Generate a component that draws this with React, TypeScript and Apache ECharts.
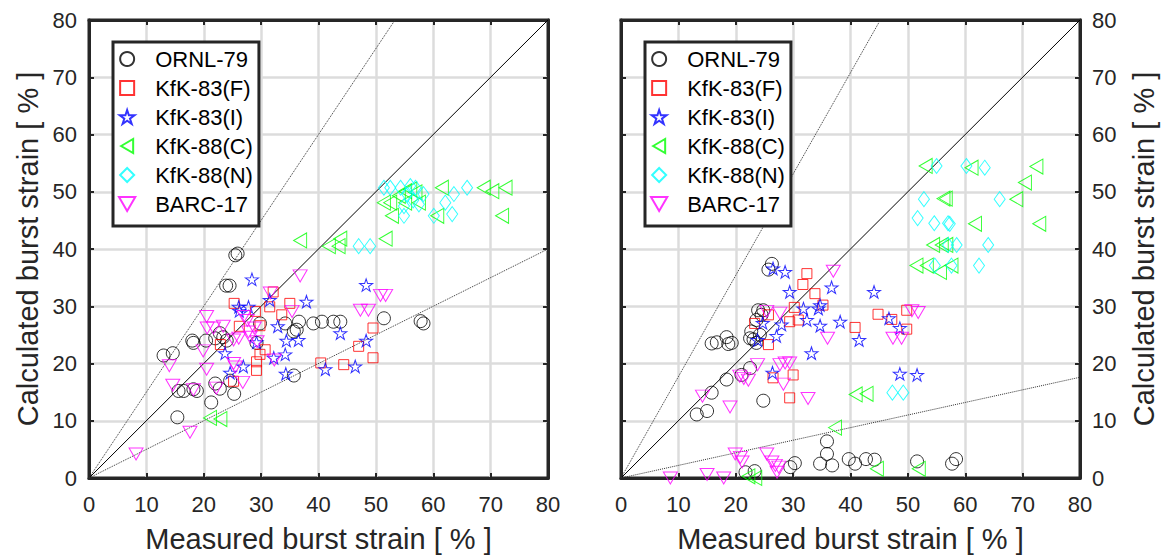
import React, { useEffect, useRef } from "react";
import * as echarts from "echarts";

const FONT = "'Liberation Sans', Arial, Helvetica, sans-serif";
const AXIS_COLOR = "#262626";

const seriesNames = ["ORNL-79", "KfK-83(F)", "KfK-83(I)", "KfK-88(C)", "KfK-88(N)", "BARC-17"];
const seriesColors = ["#000000", "#ff0000", "#0000ff", "#00ff00", "#00ffff", "#ff00ff"];
const tickValues = [0, 10, 20, 30, 40, 50, 60, 70, 80];
const xTitle = "Measured burst strain [ % ]";
const yTitle = "Calculated burst strain [ % ]";

// reference lines: y = slope * x (first solid 1:1, then dotted bands)
const leftLineSlopes = [1, 1.5, 0.5];
const rightLineSlopes = [1, 1.77, 0.22];

// ---------- left panel ----------
const leftORNL79 = [
  [13.0, 21.4], [14.6, 21.8], [15.4, 10.6], [15.6, 15.2], [16.5, 15.2], [18.2, 15.5], [18.8, 15.2],
  [18.2, 23.6], [18.0, 24.0], [20.4, 24.0], [22.0, 24.4], [22.8, 25.3], [23.4, 24.6], [24.0, 24.0],
  [22.0, 16.5], [22.8, 15.6], [24.6, 17.0], [25.3, 14.7], [21.3, 13.2], [23.9, 33.6], [24.5, 33.6],
  [25.5, 38.9], [25.9, 39.2], [29.2, 23.6], [29.8, 27.0], [34.2, 27.0], [35.7, 25.6], [36.2, 25.9],
  [36.6, 27.3], [35.7, 17.9], [39.1, 27.0], [40.6, 27.3], [42.6, 27.3], [43.8, 27.3], [51.4, 27.9],
  [57.8, 27.4], [58.3, 27.0],
];
const leftKfK83F = [
  [25.3, 30.5], [32.1, 32.5], [31.5, 29.9], [35.0, 30.5], [33.6, 28.5], [29.0, 29.1], [26.2, 26.5],
  [29.8, 26.6], [22.9, 23.3], [30.7, 22.4], [29.8, 21.6], [29.2, 20.3], [29.2, 18.8], [25.2, 16.9],
  [40.4, 20.1], [44.4, 19.8], [47.0, 23.0], [49.5, 26.2], [49.5, 21.0],
];
const leftKfK83I = [
  [28.4, 34.7], [26.1, 29.9], [27.8, 29.9], [26.2, 29.2], [31.5, 31.1], [37.9, 30.8], [32.9, 26.5],
  [29.2, 23.7], [34.4, 24.0], [36.5, 24.1], [23.7, 21.8], [34.2, 21.6], [32.2, 21.0], [24.6, 18.4],
  [26.9, 19.5], [34.3, 18.2], [41.2, 19.0], [48.3, 33.7], [43.8, 25.3], [48.3, 24.0], [46.4, 19.5],
];
const leftKfK88C = [
  [21.1, 10.5], [22.9, 10.3], [36.8, 41.5], [41.8, 40.5], [43.5, 40.5], [43.8, 41.8], [51.7, 41.8],
  [51.4, 48.1], [52.5, 48.1], [52.8, 45.8], [54.0, 49.3], [55.1, 50.1], [56.0, 50.4], [56.9, 49.9],
  [57.5, 48.1], [55.1, 48.1], [60.7, 45.8], [61.5, 50.7], [68.8, 50.7], [70.3, 50.1], [72.6, 50.7],
  [72.0, 45.8],
];
const leftKfK88N = [
  [47.0, 40.5], [49.0, 40.5], [51.4, 50.7], [52.5, 50.7], [54.3, 50.7], [56.0, 51.0], [56.9, 50.7],
  [58.3, 49.6], [55.5, 49.5], [56.5, 48.5], [63.6, 49.6], [65.9, 50.7], [62.1, 48.1], [63.3, 46.1],
  [60.1, 45.8], [54.9, 47.5], [54.9, 45.8], [57.5, 47.8],
];
const leftBARC17 = [
  [8.2, 4.2], [17.6, 8.0], [14.0, 19.6], [14.6, 16.2], [18.2, 15.4], [22.2, 15.7], [20.5, 28.2],
  [20.6, 26.2], [21.7, 26.2], [23.4, 26.5], [25.2, 24.1], [26.1, 24.4], [19.9, 22.2], [20.5, 19.0],
  [25.2, 20.0], [25.5, 19.4], [26.8, 16.7], [27.0, 28.2], [27.6, 27.5], [27.8, 25.5], [28.1, 24.6],
  [29.3, 23.8], [28.8, 26.2], [31.6, 32.3], [32.3, 20.6], [35.4, 29.1], [36.8, 35.3], [47.3, 29.3],
  [48.7, 29.3], [50.8, 31.9], [51.7, 31.9],
];

// ---------- right panel ----------
const rightORNL79 = [
  [13.2, 11.1], [15.0, 11.7], [15.8, 14.9], [18.4, 17.2], [21.0, 18.0], [22.5, 19.2], [24.8, 13.5],
  [15.8, 23.5], [16.7, 23.7], [18.4, 24.6], [18.7, 23.4], [19.3, 23.6], [22.5, 24.4], [23.1, 24.2],
  [22.7, 25.6], [24.2, 25.0], [23.6, 23.6], [23.9, 29.3], [24.5, 28.5], [24.8, 29.3], [23.6, 27.6],
  [25.7, 36.4], [26.3, 37.4], [21.7, 1.0], [23.3, 1.2], [29.5, 1.9], [30.3, 2.6], [34.7, 2.5],
  [35.9, 4.2], [35.9, 6.4], [36.8, 2.2], [39.7, 3.3], [40.8, 2.5], [42.7, 3.3], [44.2, 3.2],
  [51.6, 2.9], [57.7, 2.5], [58.4, 3.3],
];
const rightKfK83F = [
  [32.4, 35.7], [31.7, 33.8], [33.8, 32.2], [35.2, 30.2], [30.2, 29.8], [25.7, 28.5], [29.4, 27.3],
  [30.9, 27.6], [23.3, 27.0], [25.7, 23.3], [26.5, 17.5], [30.0, 18.0], [29.4, 14.0], [40.8, 26.3],
  [44.8, 28.6], [47.2, 27.7], [49.8, 29.3], [49.8, 26.0],
];
const rightKfK83I = [
  [26.5, 36.6], [28.6, 36.0], [29.4, 32.5], [31.8, 29.6], [34.7, 30.2], [34.4, 29.6], [28.0, 26.8],
  [32.4, 27.6], [34.7, 26.6], [27.1, 24.8], [24.7, 27.1], [23.8, 24.1], [33.2, 21.8], [26.4, 18.4],
  [36.7, 33.3], [44.1, 32.5], [38.2, 27.3], [41.5, 24.1], [46.7, 27.9], [48.6, 26.2], [48.6, 18.2],
  [51.6, 18.0],
];
const rightKfK88C = [
  [53.1, 54.5], [61.1, 54.2], [72.4, 54.4], [70.4, 51.6], [56.2, 48.8], [56.6, 48.8], [68.9, 48.7],
  [61.7, 44.4], [72.9, 44.4], [54.4, 40.7], [55.9, 40.7], [56.7, 40.7], [51.5, 37.1], [53.3, 37.1],
  [55.6, 36.0], [57.6, 37.1], [42.8, 14.7], [40.9, 14.6], [37.3, 8.8], [44.6, 1.6], [51.9, 1.6],
  [22.2, 0.3], [23.4, 0.0],
];
const rightKfK88N = [
  [55.0, 54.5], [60.2, 54.5], [63.4, 54.2], [52.8, 48.7], [66.0, 48.7], [51.7, 45.4], [54.6, 44.5],
  [57.0, 44.5], [57.3, 44.4], [58.5, 40.7], [57.0, 40.7], [64.0, 40.7], [54.7, 37.1], [57.6, 37.1],
  [62.4, 37.1], [47.3, 14.9], [49.2, 14.9],
];
const rightBARC17 = [
  [8.6, 0.0], [15.0, 0.6], [17.9, 0.0], [19.9, 4.2], [20.8, 3.6], [21.1, 2.8], [25.4, 4.2],
  [26.3, 2.8], [26.9, 2.2], [27.2, 1.0], [27.5, 1.9], [14.2, 14.3], [19.0, 12.4], [20.7, 17.8],
  [21.4, 17.4], [22.2, 17.1], [23.8, 19.8], [27.7, 19.8], [28.6, 20.1], [29.4, 20.1], [28.3, 16.4],
  [32.6, 13.9], [25.4, 29.1], [27.7, 28.8], [36.0, 24.4], [37.0, 36.1], [50.7, 29.2], [51.8, 28.9],
  [47.4, 24.4], [48.9, 24.4],
];

const leftData = [leftORNL79, leftKfK83F, leftKfK83I, leftKfK88C, leftKfK88N, leftBARC17];
const rightData = [rightORNL79, rightKfK83F, rightKfK83I, rightKfK88C, rightKfK88N, rightBARC17];

const STAR =
  "path://M100 0 L122.45 69.1 L195.1 69.1 L136.3 111.8 L158.8 180.9 L100 138.2 L41.2 180.9 L63.7 111.8 L4.9 69.1 L77.55 69.1 Z";
const TRI_DOWN = "path://M0 0 L100 0 L50 86 Z";
const TRI_LEFT = "path://M0 50 L86 0 L86 100 Z";
const DIAMOND = "path://M50 0 L100 50 L50 100 L0 50 Z";
const SQUARE = "path://M0 0 L100 0 L100 100 L0 100 Z";
const CIRCLE = "path://M50 0 A50 50 0 1 1 49.99 0 Z";

const markers: { symbol: string; size: number | number[] }[] = [
  { symbol: "circle", size: 13 },
  { symbol: SQUARE, size: 10 },
  { symbol: STAR, size: [13, 12.4] },
  { symbol: TRI_LEFT, size: [13, 15] },
  { symbol: DIAMOND, size: [11, 15] },
  { symbol: TRI_DOWN, size: [14, 12] },
];

const GRIDS = [
  { left: 89, top: 20, width: 459, height: 461 },
  { left: 621, top: 20, width: 459, height: 461 },
];

function valueAxis(gridIndex: number, position: string, opts: any) {
  const min = tickValues[0];
  const max = tickValues[tickValues.length - 1];
  return {
    type: "value",
    gridIndex,
    position,
    min,
    max,
    interval: tickValues[1] - tickValues[0],
    axisLine: { show: true, onZero: false, lineStyle: { color: AXIS_COLOR, width: 3 } },
    axisTick: { show: true, inside: true, length: 5, lineStyle: { color: AXIS_COLOR, width: 2 } },
    axisLabel: {
      show: !!opts.labels,
      fontSize: 22,
      fontFamily: FONT,
      color: AXIS_COLOR,
      margin: opts.labelMargin || 12,
    },
    splitLine: {
      show: !!opts.split,
      showMinLine: false,
      showMaxLine: false,
      lineStyle: { color: "#dcdcdc", width: 2.5 },
    },
    name: opts.name || "",
    nameLocation: "middle",
    nameGap: opts.nameGap || 0,
    nameRotate: opts.nameRotate,
    nameTextStyle: { fontSize: 29, fontFamily: FONT, color: AXIS_COLOR },
  };
}

function scatterSeries(gridIndex: number, data: number[][], i: number) {
  return {
    type: "scatter",
    name: seriesNames[i],
    xAxisIndex: gridIndex * 2,
    yAxisIndex: gridIndex * 2,
    data,
    symbol: markers[i].symbol,
    symbolSize: markers[i].size,
    itemStyle: { color: "rgba(255,255,255,0)", borderColor: seriesColors[i], borderWidth: 1 },
    emphasis: { disabled: true },
    silent: true,
    z: 3,
  };
}

function lineSeries(gridIndex: number, slope: number, idx: number) {
  const end = slope >= 1 ? [80 / slope, 80] : [80, 80 * slope];
  return {
    type: "line",
    name: "ref" + gridIndex + "-" + idx,
    xAxisIndex: gridIndex * 2,
    yAxisIndex: gridIndex * 2,
    data: [[0, 0], end],
    symbol: "none",
    silent: true,
    z: 2,
    lineStyle: { color: idx === 0 ? "#000" : "#333", width: 1, type: idx === 0 ? "solid" : "dotted" },
  };
}

function legendAt(left: number) {
  return {
    data: seriesNames,
    orient: "vertical",
    left,
    top: 42,
    itemWidth: 46,
    itemHeight: 14,
    itemGap: 5,
    selectedMode: false,
    symbolKeepAspect: true,
    padding: [5, 6, 10, 5],
    backgroundColor: "#ffffff",
    borderColor: AXIS_COLOR,
    borderWidth: 3,
    borderRadius: 0,
    textStyle: { fontSize: 22, fontFamily: FONT, color: "#000", lineHeight: 24 },
  };
}

export default function App() {
  const ref = useRef<HTMLDivElement>(null);
  useEffect(() => {
    if (!ref.current) return;
    const chart = echarts.init(ref.current, null, { renderer: "svg" });
    const series: any[] = [];
    leftLineSlopes.forEach((s, k) => series.push(lineSeries(0, s, k)));
    rightLineSlopes.forEach((s, k) => series.push(lineSeries(1, s, k)));
    leftData.forEach((d, i) => series.push(scatterSeries(0, d, i)));
    rightData.forEach((d, i) => series.push(scatterSeries(1, d, i)));
    chart.setOption({
      animation: false,
      backgroundColor: "#ffffff",
      grid: GRIDS.map((g) => ({
        ...g,
        show: true,
        backgroundColor: "#ffffff",
        borderColor: AXIS_COLOR,
        borderWidth: 3,
        containLabel: false,
      })),
      xAxis: [
        valueAxis(0, "bottom", { labels: true, split: true, name: xTitle, nameGap: 46, labelMargin: 15 }),
        valueAxis(0, "top", {}),
        valueAxis(1, "bottom", { labels: true, split: true, name: xTitle, nameGap: 46, labelMargin: 15 }),
        valueAxis(1, "top", {}),
      ],
      yAxis: [
        valueAxis(0, "left", { labels: true, split: true, name: yTitle, nameGap: 47, nameRotate: 90 }),
        valueAxis(0, "right", {}),
        valueAxis(1, "left", { split: true }),
        valueAxis(1, "right", { labels: true, name: yTitle, nameGap: 49, nameRotate: 90 }),
      ],
      legend: [legendAt(113), legendAt(645)],
      series,
    });
    return () => chart.dispose();
  }, []);
  return (
    <div
      ref={ref}
      style={{ position: "fixed", left: 0, top: 0, width: 1166, height: 558, background: "#fff" }}
    />
  );
}
